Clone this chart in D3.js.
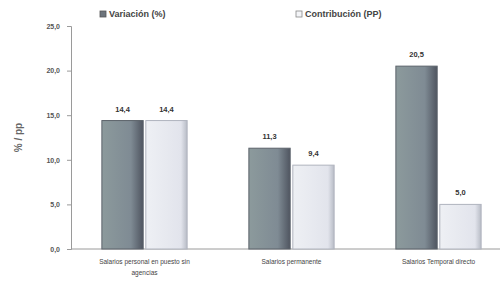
<!DOCTYPE html>
<html>
<head>
<meta charset="utf-8">
<style>
	body{ margin:0; background:#fff; }
	text{ font-family: "Liberation Sans", Arial, sans-serif; }
</style>
</head>
<body>
<script src="https://d3js.org/d3.v7.min.js"></script>
<script>

	var categories = [["Salarios personal en puesto sin", "agencias"], ["Salarios permanente"], ["Salarios Temporal directo"]];
	var seriesNames = ["Variación (%)", "Contribución (PP)"];
	var variacion = [14.4, 11.3, 20.5];
	var contribucion = [14.4, 9.4, 5.0];
	var yTicks = [0, 5, 10, 15, 20, 25];

	var width = 502, height = 283;
	var margin = {top: 26, right: 10, bottom: 34, left: 71};

	var svg = d3.select("body").append("svg")
		.attr("width", width)
		.attr("height", height);

	var defs = svg.append("defs");
	var gd = defs.append("linearGradient").attr("id", "gDark");
	gd.append("stop").attr("offset", "0%").attr("stop-color", "#8c9a9c");
	gd.append("stop").attr("offset", "70%").attr("stop-color", "#7f8b94");
	gd.append("stop").attr("offset", "100%").attr("stop-color", "#4f5560");
	var gl = defs.append("linearGradient").attr("id", "gLight");
	gl.append("stop").attr("offset", "0%").attr("stop-color", "#eef0f4");
	gl.append("stop").attr("offset", "85%").attr("stop-color", "#e2e4ec");
	gl.append("stop").attr("offset", "100%").attr("stop-color", "#b8bcc6");

	var x0 = d3.scaleBand()
		.domain(d3.range(categories.length))
		.range([margin.left, 512])
		.paddingInner(0.42)
		.paddingOuter(0.21);

	var x1 = d3.scaleBand()
		.domain([0, 1])
		.range([0, x0.bandwidth()])
		.paddingInner(0.06);

	var y = d3.scaleLinear()
		.domain([0, 25])
		.range([height - margin.bottom, margin.top]);

	// y axis
	var yAxis = svg.append("g")
		.attr("transform", "translate(" + margin.left + ",0)")
		.call(d3.axisLeft(y).tickValues(yTicks).tickSize(4)
			.tickFormat(function(d){ return d3.format(".1f")(d).replace(".", ","); }));
	yAxis.selectAll("path, line").attr("stroke", "#9a9a9a");
	yAxis.selectAll("text").attr("fill", "#555").attr("font-size", "7px").attr("font-weight", "bold").attr("dx", "-4");

	// x baseline
	svg.append("line")
		.attr("x1", margin.left).attr("x2", width - 2)
		.attr("y1", y(0)).attr("y2", y(0))
		.attr("stroke", "#9a9a9a");

	svg.append("text")
		.attr("transform", "translate(22," + ((margin.top + y(0)) / 2) + ") rotate(-90)")
		.attr("text-anchor", "middle")
		.attr("fill", "#666")
		.attr("font-size", "10px")
		.attr("font-weight", "bold")
		.text("% / pp");

	var series = [variacion, contribucion];
	var fills = ["url(#gDark)", "url(#gLight)"];
	var strokes = ["#5c636b", "#b0b4be"];

	series.forEach(function(vals, s){
		var g = svg.append("g");
		g.selectAll("rect")
			.data(vals)
			.enter().append("rect")
			.attr("x", function(d, i){ return x0(i) + x1(s); })
			.attr("y", function(d){ return y(d); })
			.attr("width", x1.bandwidth())
			.attr("height", function(d){ return y(0) - y(d); })
			.attr("fill", fills[s])
			.attr("stroke", strokes[s])
			.attr("stroke-width", 1);
		g.selectAll("text")
			.data(vals)
			.enter().append("text")
			.attr("x", function(d, i){ return x0(i) + x1(s) + x1.bandwidth() / 2; })
			.attr("y", function(d){ return y(d) - 9; })
			.attr("text-anchor", "middle")
			.attr("fill", "#333")
			.attr("font-size", "7.5px")
			.attr("font-weight", "bold")
			.text(function(d){ return d3.format(".1f")(d).replace(".", ","); });
	});

	// category labels
	categories.forEach(function(lines, i){
		var t = svg.append("text")
			.attr("text-anchor", "middle")
			.attr("fill", "#444")
			.attr("font-size", "6.5px");
		lines.forEach(function(l, k){
			t.append("tspan")
				.attr("x", x0(i) + x0.bandwidth() / 2)
				.attr("y", y(0) + 15 + k * 11)
				.text(l);
		});
	});

	// legend
	var legX = [100, 296];
	seriesNames.forEach(function(n, s){
		var lg = svg.append("g").attr("transform", "translate(" + legX[s] + ",15)");
		lg.append("rect")
			.attr("x", 0).attr("y", -4).attr("width", 6).attr("height", 6)
			.attr("fill", s === 0 ? "#6d747c" : "#f4f5f8")
			.attr("stroke", s === 0 ? "#555" : "#888")
			.attr("stroke-width", 0.8);
		lg.append("text")
			.attr("x", 9).attr("y", 2)
			.attr("fill", "#444")
			.attr("font-size", "9px")
			.attr("font-weight", "bold")
			.text(n);
	});

</script>
</body>
</html>
